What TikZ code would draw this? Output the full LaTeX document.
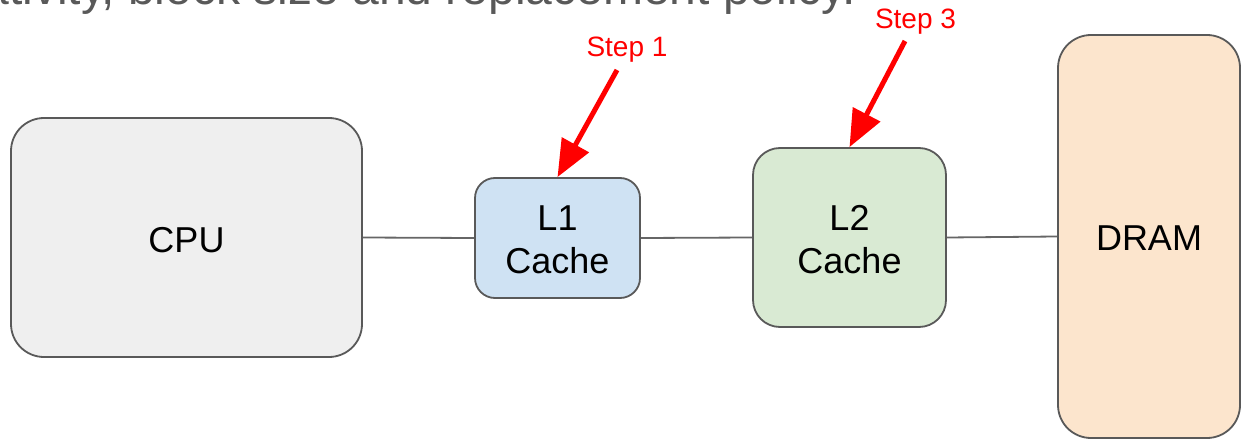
\documentclass[tikz,border=0pt]{standalone}
\usepackage{fontspec}
\setmainfont{Liberation Sans}
\usetikzlibrary{arrows.meta}
\definecolor{cpufill}{HTML}{EFEFEF}
\definecolor{lonefill}{HTML}{CFE2F3}
\definecolor{ltwofill}{HTML}{D9EAD3}
\definecolor{dramfill}{HTML}{FCE5CD}
\definecolor{edgegray}{HTML}{595959}
\definecolor{wiregray}{HTML}{666666}
\definecolor{titlegray}{HTML}{595959}
\definecolor{stepred}{HTML}{FF0000}
\tikzset{
  unitbox/.style={draw=edgegray, line width=1.8pt, inner sep=0pt},
  unittext/.style={inner sep=0pt, align=center,
    font=\fontsize{36}{42.5}\selectfont, text=black},
  wire/.style={draw=wiregray, line width=1.8pt},
  steplabel/.style={text=stepred, font=\fontsize{28}{32}\selectfont, inner sep=0pt, anchor=base},
  steparrow/.style={draw=stepred, line width=5pt,
    -{Triangle[length=37pt, width=30pt]}}
}
\begin{document}
\begin{tikzpicture}[x=1pt, y=-1pt]
\useasboundingbox (0,0) rectangle (1242,441);
\clip (0,0) rectangle (1242,441);
\node[text=titlegray, font=\fontsize{48}{54}\selectfont, anchor=base east, inner sep=0pt]
  (title) at (856,5) {associativity, block size and replacement policy.};

\node[unitbox, fill=cpufill, rounded corners=33pt, minimum width=351pt, minimum height=239pt]
  (cpu) at (186.5,237.5) {};
\node[unitbox, fill=lonefill, rounded corners=20pt, minimum width=165pt, minimum height=120pt]
  (l1) at (557.5,238) {};
\node[unitbox, fill=ltwofill, rounded corners=27pt, minimum width=193pt, minimum height=179pt]
  (l2) at (849.5,237.5) {};
\node[unitbox, fill=dramfill, rounded corners=33pt, minimum width=182pt, minimum height=403pt]
  (dram) at (1149,236.5) {};

\node[unittext] (cputext) at ([yshift=-2.5pt]cpu.center) {CPU};
\node[unittext] (l1text) at ([yshift=-2pt]l1.center) {L1\\Cache};
\node[unittext] (l2text) at ([yshift=-2pt]l2.center) {L2\\Cache};
\node[unittext] (dramtext) at ([yshift=-2pt]dram.center) {DRAM};

\draw[wire] (cpu.east) -- (l1.west);
\draw[wire] (l1.east) -- (l2.west);
\draw[wire] (l2.east) -- (dram.west);

\node[steplabel] (s1) at (627,57) {Step 1};
\node[steplabel] (s3) at (915.5,29) {Step 3};
\coordinate (s1start) at (617,70);
\coordinate (s3start) at (905,41);
\draw[steparrow] (s1start) -- (l1.north);
\draw[steparrow] (s3start) -- (l2.north);
\end{tikzpicture}
\end{document}
